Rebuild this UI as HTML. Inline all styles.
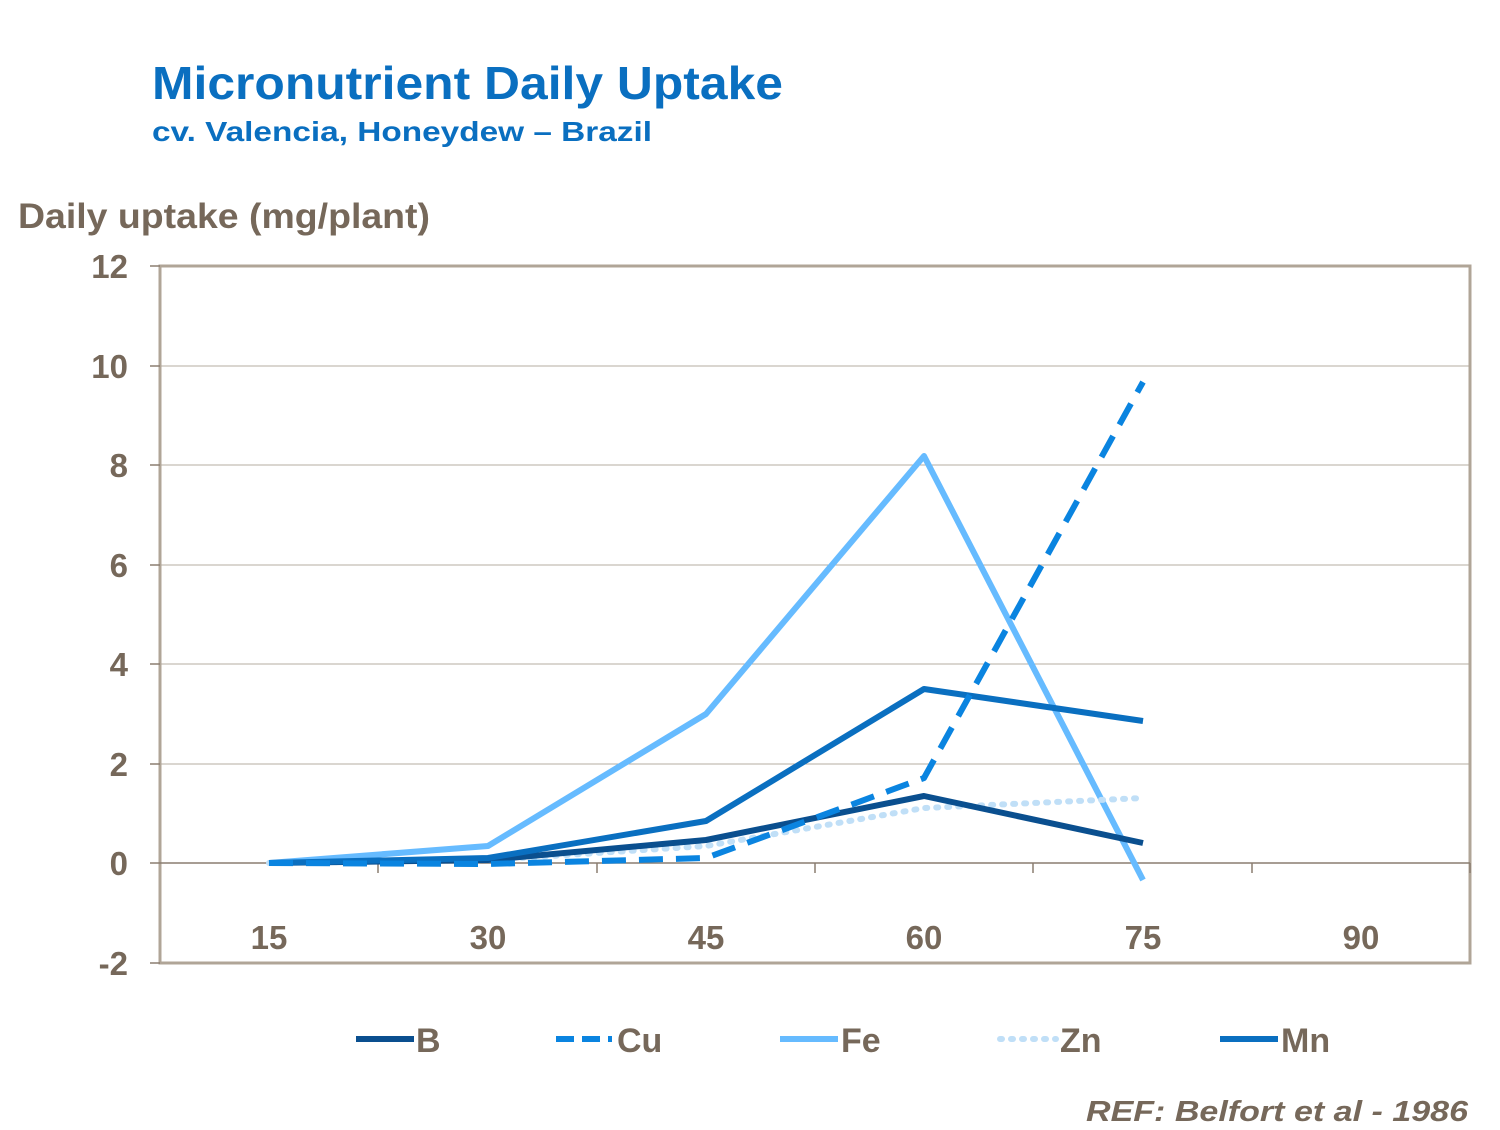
<!DOCTYPE html>
<html><head><style>
body{margin:0;background:#fff;}
svg text{font-family:"Liberation Sans",Arial,sans-serif;font-weight:bold;}
</style></head><body>
<svg width="1500" height="1125" viewBox="0 0 1500 1125" xmlns="http://www.w3.org/2000/svg">
<text x="152" y="99" font-size="46" fill="#0a6fc0" textLength="631" lengthAdjust="spacingAndGlyphs">Micronutrient Daily Uptake</text>
<text x="152" y="141" font-size="28" fill="#0a6fc0" textLength="500" lengthAdjust="spacingAndGlyphs">cv. Valencia,  Honeydew – Brazil</text>
<text x="18" y="228" font-size="35" fill="#76685a" textLength="412" lengthAdjust="spacingAndGlyphs">Daily uptake (mg/plant)</text>
<g stroke="#b5aca2" stroke-width="1">
<line x1="160" y1="366" x2="1470" y2="366"/>
<line x1="160" y1="465" x2="1470" y2="465"/>
<line x1="160" y1="565" x2="1470" y2="565"/>
<line x1="160" y1="664" x2="1470" y2="664"/>
<line x1="160" y1="764" x2="1470" y2="764"/>
</g>
<rect x="160" y="266" width="1310" height="697" fill="none" stroke="#b0a597" stroke-width="3"/>
<line x1="160" y1="863" x2="1470" y2="863" stroke="#8a7d70" stroke-width="1.5"/>
<g stroke="#8a7d70" stroke-width="1.5">
<line x1="378" y1="863" x2="378" y2="873"/><line x1="597" y1="863" x2="597" y2="873"/>
<line x1="815" y1="863" x2="815" y2="873"/><line x1="1033" y1="863" x2="1033" y2="873"/>
<line x1="1252" y1="863" x2="1252" y2="873"/><line x1="1470" y1="863" x2="1470" y2="873"/>
<line x1="150" y1="266" x2="160" y2="266"/><line x1="150" y1="366" x2="160" y2="366"/>
<line x1="150" y1="465" x2="160" y2="465"/><line x1="150" y1="565" x2="160" y2="565"/>
<line x1="150" y1="664" x2="160" y2="664"/><line x1="150" y1="764" x2="160" y2="764"/>
<line x1="150" y1="863" x2="160" y2="863"/><line x1="150" y1="963" x2="160" y2="963"/>
</g>
<g font-size="33" fill="#76685a" text-anchor="end">
<text x="128" y="278">12</text><text x="128" y="378">10</text><text x="128" y="477">8</text>
<text x="128" y="577">6</text><text x="128" y="676">4</text><text x="128" y="776">2</text>
<text x="128" y="875">0</text><text x="128" y="975">-2</text>
</g>
<g font-size="33" fill="#76685a" text-anchor="middle">
<text x="269" y="949">15</text><text x="488" y="949">30</text><text x="706" y="949">45</text>
<text x="924" y="949">60</text><text x="1143" y="949">75</text><text x="1361" y="949">90</text>
</g>
<g fill="none" stroke-width="6" stroke-linejoin="round">
<polyline stroke="#66bbff" points="269,863 488,846 706,714 924,456 1143,880"/>
<polyline stroke="#c0dff7" stroke-dasharray="2,9" stroke-linecap="round" points="269,863 488,860 706,846 924,808 1143,798"/>
<polyline stroke="#0a4f8f" points="269,863 488,860 706,840 924,796 1143,843"/>
<polyline stroke="#0a6fc0" points="269,863 488,858 706,821 924,689 1143,721"/>
<polyline stroke="#0a84e0" stroke-dasharray="24,13" points="269,863 488,864 706,858 924,778 1143,382"/>
</g>
<g stroke-width="6">
<line x1="356" y1="1039" x2="414" y2="1039" stroke="#0a4f8f"/>
<line x1="556" y1="1039" x2="612" y2="1039" stroke="#0a84e0" stroke-dasharray="18,8"/>
<line x1="780" y1="1039" x2="838" y2="1039" stroke="#66bbff"/>
<line x1="1000" y1="1039" x2="1056" y2="1039" stroke="#c0dff7" stroke-dasharray="2,9" stroke-linecap="round"/>
<line x1="1220" y1="1039" x2="1278" y2="1039" stroke="#0a6fc0"/>
</g>
<g font-size="34" fill="#76685a">
<text x="416" y="1052">B</text><text x="617" y="1052">Cu</text><text x="841" y="1052">Fe</text>
<text x="1060" y="1052">Zn</text><text x="1281" y="1052">Mn</text>
</g>
<text x="1086" y="1121" font-size="29" font-style="italic" fill="#76685a" textLength="382" lengthAdjust="spacingAndGlyphs">REF: Belfort et al -  1986</text>
</svg>
</body></html>
